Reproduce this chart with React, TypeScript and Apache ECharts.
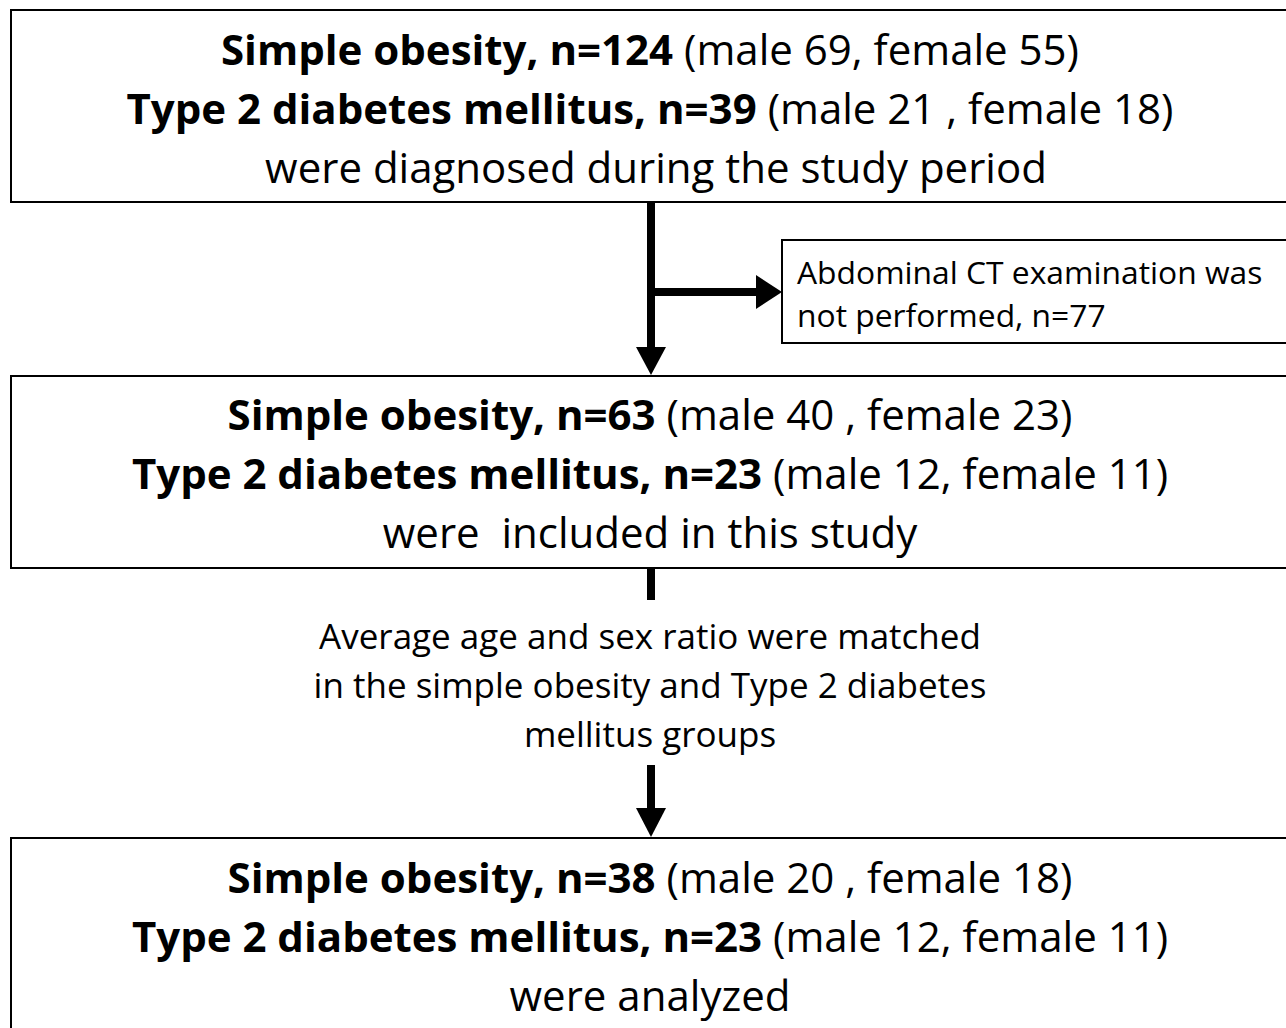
import React, { useEffect, useRef } from "react";
import * as echarts from "echarts";

const stage1Bold = ["Simple obesity, n=124", "Type 2 diabetes mellitus, n=39"];
const stage1Plain = ["(male 69, female 55)", "(male 21 , female 18)"];
const stage1Note = "were diagnosed during the study period";

const excludedLines = ["Abdominal CT examination was", "not performed, n=77"];

const stage2Bold = ["Simple obesity, n=63", "Type 2 diabetes mellitus, n=23"];
const stage2Plain = ["(male 40 , female 23)", "(male 12, female 11)"];
const stage2Note = "were  included in this study";

const matchLines = [
  "Average age and sex ratio were matched",
  "in the simple obesity and Type 2 diabetes",
  "mellitus groups",
];

const stage3Bold = ["Simple obesity, n=38", "Type 2 diabetes mellitus, n=23"];
const stage3Plain = ["(male 20 , female 18)", "(male 12, female 11)"];
const stage3Note = "were analyzed";

const FONT = "Open Sans";
const BIG = 42;
const MID = 35;
const SMALL = 31.8;

function richLine(bold: string, plain: string, x: number, y: number) {
  return {
    type: "text",
    style: {
      text: `{b|${bold}}{r|${plain}}`,
      x,
      y,
      align: "center",
      verticalAlign: "middle",
      rich: {
        b: { fontFamily: FONT, fontWeight: "bold", fontSize: BIG, fill: "#000" },
        r: {
          fontFamily: FONT,
          fontWeight: "normal",
          fontSize: BIG,
          fill: "#000",
          padding: [0, 0, 0, 11],
        },
      },
    },
  };
}

function plainText(text: string, x: number, y: number, size: number, align = "center") {
  return {
    type: "text",
    style: {
      text,
      x,
      y,
      align,
      verticalAlign: "middle",
      fontFamily: FONT,
      fontSize: size,
      fill: "#000",
    },
  };
}

function box(x: number, y: number, w: number, h: number) {
  return {
    type: "rect",
    shape: { x, y, width: w, height: h },
    style: { fill: "#fff", stroke: "#000", lineWidth: 2 },
  };
}

function vline(x: number, y1: number, y2: number) {
  return {
    type: "line",
    shape: { x1: x, y1, x2: x, y2 },
    style: { stroke: "#000", lineWidth: 8 },
  };
}

export default function App() {
  const ref = useRef<HTMLDivElement>(null);
  useEffect(() => {
    document.body.style.margin = "0";
    const chart = echarts.init(ref.current!, undefined, { renderer: "svg" });
    const cx = 651;
    const elements: any[] = [
      box(11, 10, 1290, 192),
      box(782, 240, 520, 103),
      box(11, 376, 1290, 192),
      box(11, 838, 1290, 200),
      vline(cx, 202, 350),
      {
        type: "polygon",
        shape: { points: [[636, 347], [666, 347], [cx, 375]] },
        style: { fill: "#000" },
      },
      {
        type: "line",
        shape: { x1: cx - 4, y1: 292, x2: 760, y2: 292 },
        style: { stroke: "#000", lineWidth: 8 },
      },
      {
        type: "polygon",
        shape: { points: [[756, 275], [756, 309], [782, 292]] },
        style: { fill: "#000" },
      },
      vline(cx, 568, 600),
      vline(cx, 765, 812),
      {
        type: "polygon",
        shape: { points: [[636, 808], [666, 808], [cx, 837]] },
        style: { fill: "#000" },
      },
    ];
    stage1Bold.forEach((b, i) => elements.push(richLine(b, stage1Plain[i], 650, 48 + i * 59)));
    elements.push(plainText(stage1Note, 656, 166, BIG));
    excludedLines.forEach((t, i) => elements.push(plainText(t, 797, 271 + i * 43, SMALL, "left")));
    stage2Bold.forEach((b, i) => elements.push(richLine(b, stage2Plain[i], 650, 413 + i * 59)));
    elements.push(plainText(stage2Note, 650, 531, BIG));
    matchLines.forEach((t, i) => elements.push(plainText(t, 650, 635 + i * 49, MID)));
    stage3Bold.forEach((b, i) => elements.push(richLine(b, stage3Plain[i], 650, 876 + i * 59)));
    elements.push(plainText(stage3Note, 650, 994, BIG));

    chart.setOption({
      animation: false,
      backgroundColor: "#fff",
      graphic: { elements },
    });
    return () => chart.dispose();
  }, []);
  return <div ref={ref} style={{ width: 1286, height: 1028 }} />;
}
